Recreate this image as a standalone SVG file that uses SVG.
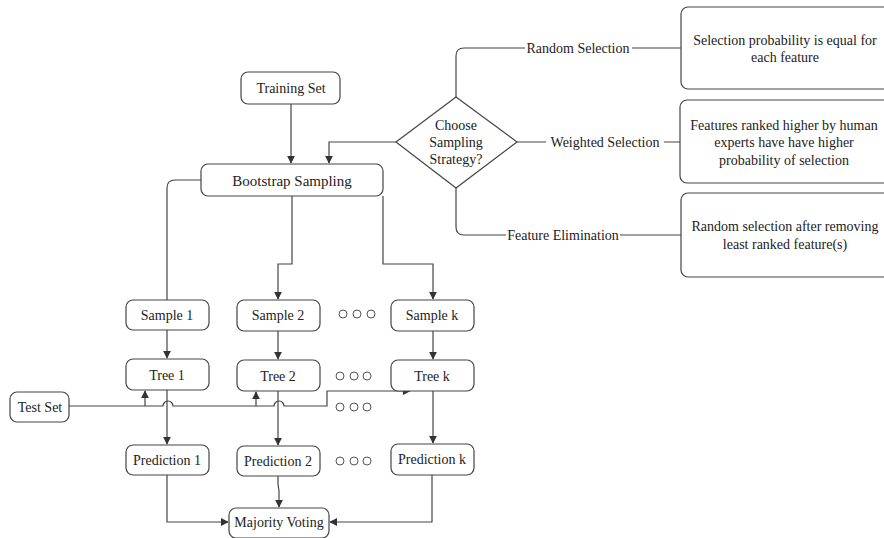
<svg xmlns="http://www.w3.org/2000/svg" width="884" height="538" viewBox="0 0 884 538">
<defs>
<marker id="ah" viewBox="0 0 10 10" refX="9" refY="5" markerWidth="8" markerHeight="8" markerUnits="userSpaceOnUse" orient="auto">
<path d="M0,0 L10,5 L0,10 Z" fill="#333"/>
</marker>
<style>
.box{fill:#fff;stroke:#444;stroke-width:1.2}
.t{font-family:'Liberation Serif','Times New Roman',serif;font-size:14px;fill:#222;text-anchor:middle;dominant-baseline:central}
.ln{fill:none;stroke:#444;stroke-width:1.2}
.lbl{fill:#fff}
.dot{fill:#fff;stroke:#555;stroke-width:1}
</style>
</defs>
<rect width="884" height="538" fill="#fff"/>
<g id="connectors">
<path class="ln" d="M291,104 V163" marker-end="url(#ah)"/>
<path class="ln" d="M396,142 H329 V163" marker-end="url(#ah)"/>
<path class="ln" d="M456,97 V56 Q456,48 464,48 H681"/>
<path class="ln" d="M517,142 H681"/>
<path class="ln" d="M456,188 V227 Q456,235 464,235 H681"/>
<path class="ln" d="M201,180 H175 Q167,180 167,188 V300"/>
<path class="ln" d="M292,196 V264 H278 V299" marker-end="url(#ah)"/>
<path class="ln" d="M383,196 V264 H433 V299" marker-end="url(#ah)"/>
<path class="ln" d="M167,330 V358" marker-end="url(#ah)"/>
<path class="ln" d="M278,331 V359" marker-end="url(#ah)"/>
<path class="ln" d="M433,331 V359" marker-end="url(#ah)"/>
<path class="ln" d="M167,390 V444" marker-end="url(#ah)"/>
<path class="ln" d="M278,391 V445" marker-end="url(#ah)"/>
<path class="ln" d="M433,391 V443" marker-end="url(#ah)"/>
<path class="ln" d="M69,406 H163 A5,5 0 0 1 173,406 H274 A5,5 0 0 1 284,406 H327 V391 H410" marker-end="url(#ah)"/>
<path class="ln" d="M145,406 V391" marker-end="url(#ah)"/>
<path class="ln" d="M256,406 V392" marker-end="url(#ah)"/>
<path class="ln" d="M167,475 V522 H228" marker-end="url(#ah)"/>
<path class="ln" d="M278,476 V484 L279,491 V507" marker-end="url(#ah)"/>
<path class="ln" d="M432,475 V522 H330" marker-end="url(#ah)"/>
</g>
<g id="label-random"><rect class="lbl" x="525" y="40" width="107" height="16"/><text class="t" x="578" y="48">Random Selection</text></g>
<g id="label-weighted"><rect class="lbl" x="546" y="134" width="118" height="16"/><text class="t" x="605" y="142">Weighted Selection</text></g>
<g id="label-elim"><rect class="lbl" x="506" y="227" width="114" height="16"/><text class="t" x="563" y="235">Feature Elimination</text></g>
<g id="training-set"><rect class="box" x="241" y="72" width="99" height="32" rx="7"/><text class="t" x="291" y="88">Training Set</text></g>
<g id="choose-strategy"><path class="box" stroke-linejoin="round" d="M456,97 L517,142 L456,188 L396,142 Z"/>
<text class="t" x="456" y="125">Choose</text><text class="t" x="456" y="142">Sampling</text><text class="t" x="456" y="159">Strategy?</text></g>
<g id="random-box"><rect class="box" x="681" y="7" width="215" height="82" rx="7"/><text class="t" x="785" y="40">Selection probability is equal for</text><text class="t" x="785" y="57">each feature</text></g>
<g id="weighted-box"><rect class="box" x="680" y="100" width="216" height="83" rx="7"/><text class="t" x="784" y="125">Features ranked higher by human</text><text class="t" x="784" y="142">experts have have higher</text><text class="t" x="784" y="160">probability of selection</text></g>
<g id="elim-box"><rect class="box" x="681" y="193" width="215" height="84" rx="7"/><text class="t" x="785" y="226">Random selection after removing</text><text class="t" x="785" y="244">least ranked feature(s)</text></g>
<g id="bootstrap"><rect class="box" x="201" y="164" width="182" height="32" rx="7"/><text class="t" x="292" y="181" style="font-size:15px">Bootstrap Sampling</text></g>
<g id="sample1"><rect class="box" x="126" y="300" width="83" height="30" rx="7"/><text class="t" x="167" y="315">Sample 1</text></g>
<g id="sample2"><rect class="box" x="237" y="300" width="83" height="31" rx="7"/><text class="t" x="278" y="315">Sample 2</text></g>
<g id="samplek"><rect class="box" x="391" y="300" width="83" height="31" rx="7"/><text class="t" x="432" y="315">Sample k</text></g>
<g id="tree1"><rect class="box" x="126" y="359" width="83" height="31" rx="7"/><text class="t" x="167" y="375">Tree 1</text></g>
<g id="tree2"><rect class="box" x="237" y="360" width="83" height="31" rx="7"/><text class="t" x="278" y="376">Tree 2</text></g>
<g id="treek"><rect class="box" x="391" y="360" width="83" height="31" rx="7"/><text class="t" x="432" y="376">Tree k</text></g>
<g id="test-set"><rect class="box" x="10" y="392" width="59" height="30" rx="7"/><text class="t" x="40" y="407">Test Set</text></g>
<g id="pred1"><rect class="box" x="126" y="445" width="83" height="30" rx="7"/><text class="t" x="167" y="460">Prediction 1</text></g>
<g id="pred2"><rect class="box" x="237" y="446" width="83" height="30" rx="7"/><text class="t" x="278" y="461">Prediction 2</text></g>
<g id="predk"><rect class="box" x="391" y="444" width="83" height="31" rx="7"/><text class="t" x="432" y="459">Prediction k</text></g>
<g id="majority"><rect class="box" x="229" y="508" width="100" height="30" rx="7"/><text class="t" x="279" y="522">Majority Voting</text></g>
<g id="dots">
<circle class="dot" cx="343" cy="314" r="4"/><circle class="dot" cx="357" cy="314" r="4"/><circle class="dot" cx="371" cy="314" r="4"/>
<circle class="dot" cx="340" cy="376" r="4"/><circle class="dot" cx="354" cy="376" r="4"/><circle class="dot" cx="367" cy="376" r="4"/>
<circle class="dot" cx="340" cy="407" r="4"/><circle class="dot" cx="354" cy="407" r="4"/><circle class="dot" cx="367" cy="407" r="4"/>
<circle class="dot" cx="340" cy="461" r="4"/><circle class="dot" cx="354" cy="461" r="4"/><circle class="dot" cx="367" cy="461" r="4"/>
</g>
</svg>
